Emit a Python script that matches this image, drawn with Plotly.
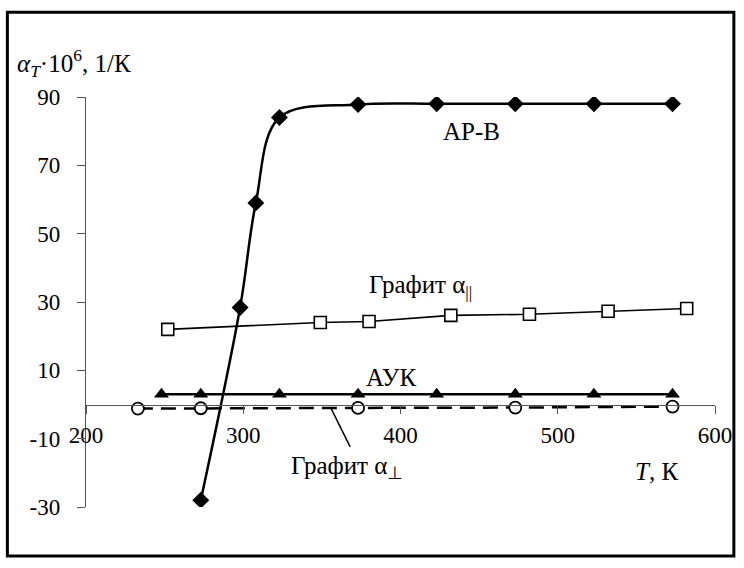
import plotly.graph_objects as go

# ---- data ----
T_arb = [273, 298, 308, 323, 373, 423, 473, 523, 573]
a_arb = [-28, 28.4, 59, 84, 87.8, 88, 88, 88, 88]

T_graph_par = [252, 349, 380, 432, 482, 532, 582]
a_graph_par = [22, 24.0, 24.3, 26.1, 26.4, 27.3, 28.1]

T_auk = [248, 273, 323, 373, 423, 473, 523, 573]
a_auk = [3, 3, 3, 3, 3, 3, 3, 3]

T_graph_perp = [233, 273, 373, 473, 573]
a_graph_perp = [-1.2, -1.1, -1.0, -0.9, -0.6]

x_ticks = [200, 300, 400, 500, 600]
x_ticktext = ["200", "300", "400", "500", "600"]
y_ticks = [-30, -10, 10, 30, 50, 70, 90]
y_ticktext = ["-30", "-10", "10", "30", "50", "70", "90"]

FONT = "Liberation Serif"

fig = go.Figure()

fig.add_trace(go.Scatter(
    x=T_graph_perp, y=a_graph_perp, mode="lines+markers",
    line=dict(color="black", width=2.5, dash="15px,8px"),
    marker=dict(symbol="circle", size=12, color="white",
                line=dict(color="black", width=1.8)),
    showlegend=False))

fig.add_trace(go.Scatter(
    x=T_auk, y=a_auk, mode="lines+markers",
    line=dict(color="black", width=2.5),
    marker=dict(symbol="triangle-up", size=13, color="black"),
    showlegend=False))

fig.add_trace(go.Scatter(
    x=T_graph_par, y=a_graph_par, mode="lines+markers",
    line=dict(color="black", width=1.6),
    marker=dict(symbol="square", size=12, color="white",
                line=dict(color="black", width=1.6)),
    showlegend=False))

fig.add_trace(go.Scatter(
    x=T_arb, y=a_arb, mode="lines+markers",
    line=dict(color="black", width=2.5, shape="spline", smoothing=1.0),
    marker=dict(symbol="diamond", size=13, color="black"),
    showlegend=False))

# label annotations (data coordinates)
labels = [
    ("АР-В", 445, 80),
    ("Графит α<sub>||</sub>", 413, 34.5),
    ("АУК", 394, 8),
    ("Графит α<sub>⊥</sub>", 366, -18.3),
    ("<i>T</i>, К", 563, -19.7),
]
for txt, lx, ly in labels:
    fig.add_annotation(x=lx, y=ly, xref="x", yref="y", text=txt,
                       showarrow=False, font=dict(family=FONT, size=25, color="black"))

# y-axis title
fig.add_annotation(x=-0.113, y=1.083, xref="paper", yref="paper",
                   xanchor="left", yanchor="middle", showarrow=False,
                   text="<i>α<sub>T</sub></i>·10<sup>6</sup>, 1/К",
                   font=dict(family=FONT, size=25, color="black"))

# leader line for the perpendicular graphite label
fig.add_shape(type="line", xref="x", yref="y", x0=356, y0=-1.3, x1=368, y1=-12.4,
              line=dict(color="black", width=1.5))

# outer frame
fig.add_shape(type="rect", xref="paper", yref="paper",
              x0=-0.125, x1=1.030, y0=-0.1195, y1=1.207,
              line=dict(color="black", width=3))

fig.update_layout(
    width=744, height=568,
    margin=dict(l=86, r=26, t=97, b=61),
    paper_bgcolor="white", plot_bgcolor="white",
    font=dict(family=FONT, size=22, color="black"),
    xaxis=dict(range=[200, 600], tickvals=x_ticks, ticktext=x_ticktext,
               showgrid=False, zeroline=False,
               showline=True, linecolor="#555", linewidth=1.4,
               ticks="outside", ticklen=8, tickcolor="#555", tickwidth=1.4,
               anchor="free", position=0.25, ticklabelstandoff=2,
               tickfont=dict(family=FONT, size=23, color="black")),
    yaxis=dict(range=[-30, 90], tickvals=y_ticks, ticktext=y_ticktext,
               showgrid=False, zeroline=False,
               showline=True, linecolor="#555", linewidth=1.4,
               ticks="outside", ticklen=8, tickcolor="#555", tickwidth=1.4,
               ticklabelstandoff=12,
               tickfont=dict(family=FONT, size=23, color="black")),
)

fig.write_html("out.html")
